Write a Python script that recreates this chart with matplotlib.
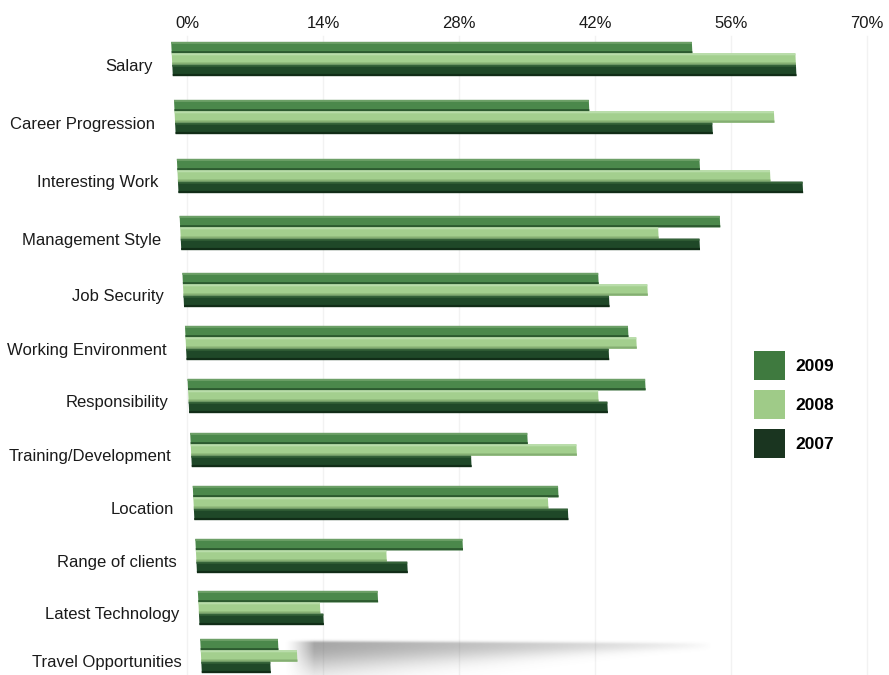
import numpy as np
import matplotlib
matplotlib.use('Agg')
import matplotlib.pyplot as plt
from matplotlib.transforms import Affine2D, ScaledTranslation
from matplotlib.patches import Patch

plt.rcParams['font.family'] = ['Liberation Sans', 'DejaVu Sans']

# Dados (% de respostas)
categorias = ['Salary', 'Career Progression', 'Interesting Work', 'Management Style',
              'Job Security', 'Working Environment', 'Responsibility',
              'Training/Development', 'Location', 'Range of clients',
              'Latest Technology', 'Travel Opportunities']
v2009 = [53.6, 42.7, 53.8, 55.6, 42.8, 45.6, 47.1, 34.7, 37.6, 27.5, 18.5, 8.0]
v2008 = [64.2, 61.7, 61.0, 49.2, 47.8, 46.4, 42.2, 39.7, 36.5, 19.6, 12.5, 9.9]
v2007 = [64.2, 55.3, 64.3, 53.4, 43.8, 43.5, 43.1, 28.8, 38.5, 21.7, 12.8, 7.1]
ticks = [0, 14, 28, 42, 56, 70]
tick_labels = ['0%', '14%', '28%', '42%', '56%', '70%']

# Layout em pixels (eixo y em pixels a partir do topo)
W, H = 889, 675
PX = 9.714          # pixels por 1%
X0 = 187            # posição do 0%
linhas_y = [59, 117, 176, 233, 290, 343, 396, 450, 503, 556, 608, 656]
h = 11.4

fig = plt.figure(figsize=(W / 100, H / 100), dpi=100)
ax = fig.add_axes([0, 0, 1, 1])
fig.patch.set_facecolor('white')

# Faixa de sombra cinza sob a última categoria
nx, ny = 500, 80
t = np.linspace(0, 1, nx)[None, :]
yy = np.linspace(634, 676, ny)[:, None]
core = 643 + 2 * t
topo = np.exp(-((yy - core) / 2.5) ** 2)
baixo = np.exp(-((yy - core) / (4 + 26 * (1 - t) ** 1.3)) ** 2)
perfil = np.where(yy < core, topo, baixo)
entrada = np.clip(t / 0.07, 0, 1) ** 1.5
alpha = 0.64 * (1 - t) ** 0.75 * entrada * perfil
img = np.zeros((ny, nx, 4))
img[..., :3] = 0.42
img[..., 3] = alpha
ax.imshow(img, extent=[(284 - X0) / PX, (712 - X0) / PX, 676, 634],
          aspect='auto', interpolation='bilinear', zorder=1)

ax.set_xlim(-X0 / PX, (W - X0) / PX)
ax.set_ylim(H, 0)

# Perspectiva: desloca para a direita conforme desce
a = 0.0486 / PX
skew = Affine2D(np.array([[1, a, -a * linhas_y[0]], [0, 1, 0], [0, 0, 1]]))
tf = skew + ax.transData
tf_barras = tf + ScaledTranslation(-0.15, 0, fig.dpi_scale_trans)

# Linhas de grade quase invisíveis
for tk in ticks:
    ax.plot([tk, tk], [36, H], color='#f2f2f2', lw=1.0, zorder=0)

y = np.array(linhas_y)
series = [
    (v2009, y - h, '#4b884b', '#6da067', '#2c5a2f'),
    (v2008, y, '#a3cf8e', '#b9ddaa', '#84ae72'),
    (v2007, y + h, '#1f4828', '#356339', '#112d17'),
]
for vals, pos, cor, claro, escuro in series:
    ax.barh(pos, vals, height=h, color=cor, transform=tf_barras, zorder=3)
    ax.barh(pos - h / 2 + 1.0, vals, height=2.0, color=claro, transform=tf_barras, zorder=4)
    ax.barh(pos + h / 2 - 1.1, vals, height=2.2, color=escuro, transform=tf_barras, zorder=4)

# Rótulos das categorias
for cat, yc in zip(categorias, linhas_y):
    ax.text(-3.6, yc + 7, cat, transform=tf, ha='right', va='center',
            fontsize=12, color='#1a1a1a')

# Eixo de valores no topo
ax.set_xticks(ticks)
ax.set_xticklabels(tick_labels)
ax.xaxis.tick_top()
ax.tick_params(axis='x', length=0, pad=-22, labelsize=12, labelcolor='#1a1a1a')
ax.set_yticks([])
for s in ax.spines.values():
    s.set_visible(False)

# Legenda
handles = [Patch(facecolor='#3f7a3f', label='2009'),
           Patch(facecolor='#9fcb88', label='2008'),
           Patch(facecolor='#1a3520', label='2007')]
leg = fig.legend(handles=handles, loc='upper left',
                 bbox_to_anchor=(754 / W, 1 - 351 / H), frameon=False,
                 handlelength=1.78, handleheight=2.19, labelspacing=0.57,
                 handletextpad=0.62, borderpad=0, borderaxespad=0,
                 prop={'weight': 'bold', 'size': 12.5})

plt.savefig('out.png', dpi=100)
